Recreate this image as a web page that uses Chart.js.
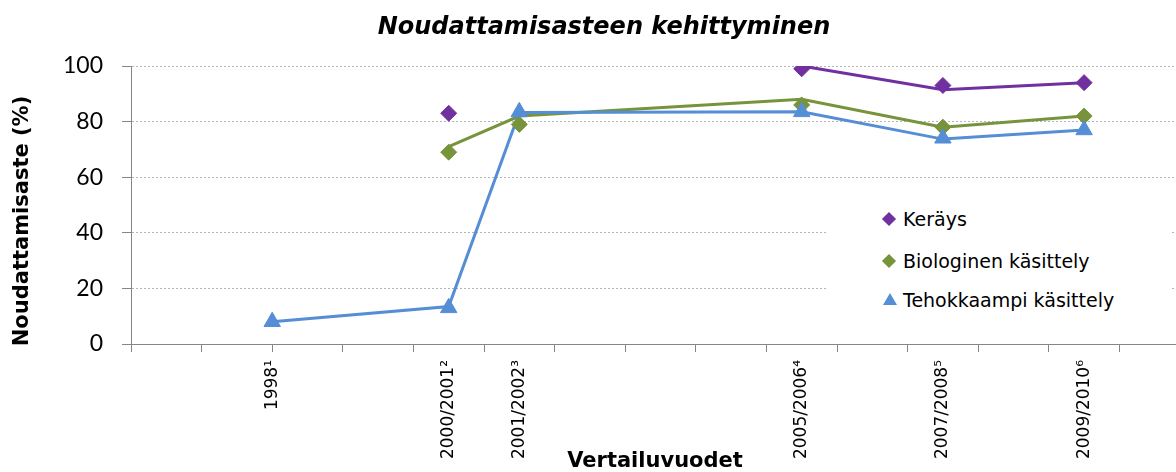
<!DOCTYPE html>
<html>
<head>
<meta charset="utf-8">
<script src="https://cdn.jsdelivr.net/npm/chart.js@4.4.1/dist/chart.umd.min.js"></script>
<style>
html, body { margin: 0; padding: 0; overflow: hidden; background: #fff; }
#wrap { position: relative; width: 1208px; height: 472px; }
#legend { position: absolute; left: 826px; top: 194px; width: 346px; height: 132px; background: #fff;
  font-family: "DejaVu Sans", sans-serif; font-size: 19px; color: #000; }
.item { position: absolute; left: 77px; height: 24px; line-height: 24px; white-space: nowrap; }
.dia { position: absolute; left: -19px; top: 7px; width: 10px; height: 10px; transform: rotate(45deg); }
.tri { position: absolute; left: -20px; top: 5px; width: 0; height: 0;
  border-left: 7px solid transparent; border-right: 7px solid transparent; border-bottom: 12px solid #558ED5; }
</style>
</head>
<body>
<div id="wrap">
  <canvas id="chart1" width="1208" height="472"></canvas>
  <div id="legend">
    <div class="item" style="top:13px"><span class="dia" style="background:#7030A0"></span>Keräys</div>
    <div class="item" style="top:55px"><span class="dia" style="background:#77933C"></span>Biologinen käsittely</div>
    <div class="item" style="top:94px"><span class="tri"></span>Tehokkaampi käsittely</div>
  </div>
</div>
<script>
var years = [1998, 2000.5, 2001.5, 2005.5, 2007.5, 2009.5];
var yearLabels = ["1998¹", "2000/2001²", "2001/2002³", "2005/2006⁴", "2007/2008⁵", "2009/2010⁶"];

// markers and connecting lines were slightly off each other in the original
var keraysPoints = [null, 83, null, 99, 93, 94];
var keraysLine = [null, null, null, 100, 91.5, 94];
var biologinenPoints = [null, 69, 79, 86, 78, 82];
var biologinenLine = [null, 71, 82, 88, 78, 82];
var tehokkaampiPoints = [8, 13, 83.5, 83.5, 74, 77];
var tehokkaampiLine = [8, 13.5, 83.3, 83.5, 73.7, 77];

var xTitle = "Vertailuvuodet";
var yTitle = "Noudattamisaste (%)";

function toXY(values) {
    return years.map(function (x, i) {
        return { x: x, y: values[i] };
    });
}

function lineSet(label, values, color, order) {
    return {
        label: label,
        data: toXY(values),
        borderColor: color,
        backgroundColor: color,
        borderWidth: 3,
        pointRadius: 0,
        pointHoverRadius: 0,
        order: order,
    };
}

function pointSet(label, values, color, style, radius, order) {
    return {
        label: label,
        data: toXY(values),
        showLine: false,
        pointStyle: style,
        pointRadius: radius,
        pointHoverRadius: radius,
        pointBackgroundColor: color,
        pointBorderColor: color,
        pointBorderWidth: 1,
        order: order,
    };
}

var axisTitles = {
    id: "axisTitles",
    afterDraw: function (chart) {
        var ctx = chart.ctx;
        var a = chart.chartArea;
        ctx.save();
        ctx.fillStyle = "#000";
        ctx.font = "bold 21px 'DejaVu Sans'";
        ctx.textAlign = "center";
        ctx.textBaseline = "alphabetic";
        ctx.fillText(xTitle, 655, 467);
        ctx.translate(28, (a.top + a.bottom) / 2 + 16);
        ctx.rotate(-Math.PI / 2);
        ctx.fillText(yTitle, 0, 0);
        ctx.restore();
    },
};

var ctx = document.getElementById("chart1").getContext("2d");
var myChart = new Chart(ctx, {
    type: "line",
    data: {
        datasets: [
            lineSet("Keräys", keraysLine, "#7030A0", 6),
            lineSet("Biologinen käsittely", biologinenLine, "#77933C", 5),
            lineSet("Tehokkaampi käsittely", tehokkaampiLine, "#558ED5", 4),
            pointSet("Keräys", keraysPoints, "#7030A0", "rectRot", 8, 3),
            pointSet("Biologinen käsittely", biologinenPoints, "#77933C", "rectRot", 8, 2),
            pointSet("Tehokkaampi käsittely", tehokkaampiPoints, "#558ED5", "triangle", 9.5, 1),
        ],
    },
    options: {
        responsive: false,
        animation: false,
        layout: { padding: 0 },
        plugins: {
            legend: { display: false },
            tooltip: { enabled: false },
            title: {
                display: true,
                text: "Noudattamisasteen kehittyminen",
                color: "#000",
                font: { family: "DejaVu Sans", size: 24, weight: "bold", style: "italic" },
                padding: { top: 13.6, bottom: 23.6 },
            },
        },
        scales: {
            x: {
                type: "linear",
                min: 1996,
                max: 2011,
                afterBuildTicks: function (scale) {
                    var vals = [];
                    for (var y = 1996; y <= 2011; y++) vals.push(y);
                    years.forEach(function (v) {
                        if (vals.indexOf(v) < 0) vals.push(v);
                    });
                    vals.sort(function (a, b) { return a - b; });
                    scale.ticks = vals.map(function (v) { return { value: v }; });
                },
                afterFit: function (scale) {
                    scale.height = 128;
                    scale.paddingLeft = 0;
                    scale.paddingRight = 18;
                },
                ticks: {
                    autoSkip: false,
                    minRotation: 90,
                    maxRotation: 90,
                    padding: 8,
                    color: "#000",
                    font: { family: "DejaVu Sans", size: 17 },
                    callback: function (value) {
                        var i = years.indexOf(value);
                        return i < 0 ? "" : yearLabels[i];
                    },
                },
                grid: {
                    drawOnChartArea: false,
                    tickLength: 8,
                    tickColor: function (c) {
                        return Number.isInteger(c.tick.value) ? "#868686" : "rgba(0,0,0,0)";
                    },
                },
                border: { color: "#868686", width: 1 },
            },
            y: {
                min: 0,
                max: 100,
                afterFit: function (scale) {
                    scale.width = 131;
                },
                ticks: {
                    stepSize: 20,
                    padding: 19,
                    color: "#000",
                    font: { family: "Lato", size: 23 },
                },
                grid: {
                    tickLength: 9,
                    tickColor: "#868686",
                    color: function (c) {
                        return c.tick.value === 0 ? "rgba(0,0,0,0)" : "#b3b3b3";
                    },
                },
                border: { color: "#868686", width: 1, dash: [2, 2] },
            },
        },
    },
    plugins: [axisTitles],
});
</script>
</body>
</html>
